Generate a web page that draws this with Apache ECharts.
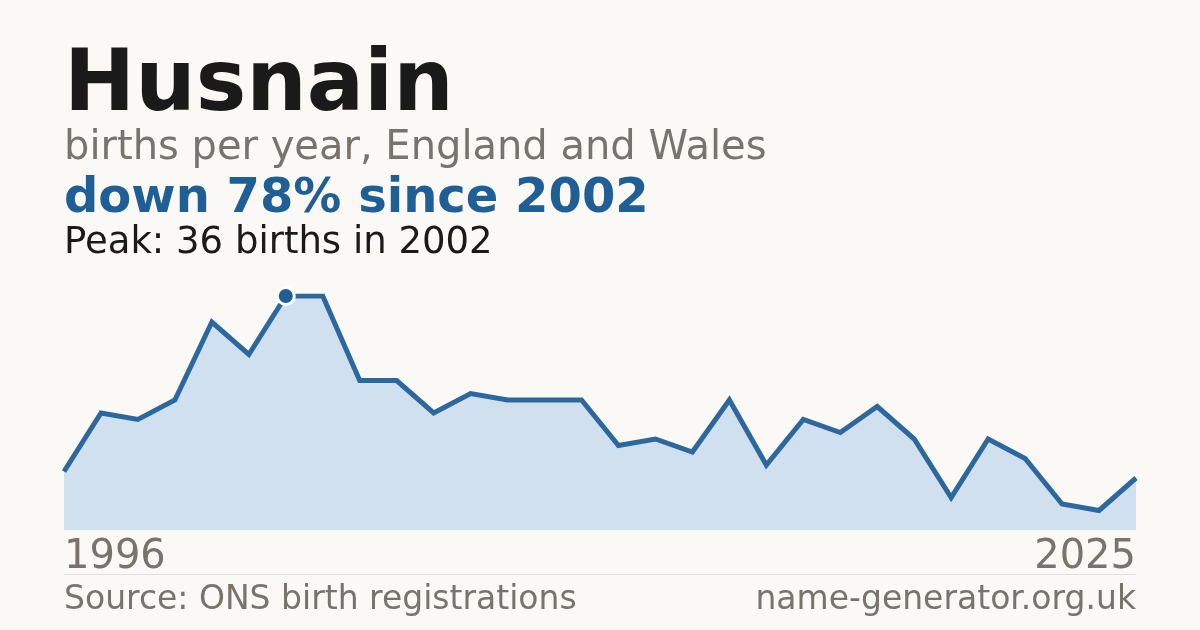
<!DOCTYPE html>
<html><head><meta charset="utf-8">
<script src="https://cdn.jsdelivr.net/npm/echarts@6/dist/echarts.min.js"></script>
<style>html,body{margin:0;padding:0;background:#faf9f5}#c{width:1200px;height:630px}</style>
</head><body><div id="c"></div>
<script>
const years = [1996,1997,1998,1999,2000,2001,2002,2003,2004,2005,2006,2007,2008,2009,2010,2011,2012,2013,2014,2015,2016,2017,2018,2019,2020,2021,2022,2023,2024,2025];
const births = [9,18,17,20,32,27,36,36,23,23,18,21,20,20,20,13,14,12,20,10,17,15,19,14,5,14,11,4,3,8];
const peakYear = 2002;
const peakValue = 36;
const titleText = "Husnain";
const subtitleText = "births per year, England and Wales";
const changeText = "down 78% since 2002";
const peakText = "Peak: 36 births in 2002";
const sourceText = "Source: ONS birth registrations";
const siteText = "name-generator.org.uk";

const F = "DejaVu Sans";
const gray = "#78736d";
const blue = "#1f5f96";
function txt(x, baseline, s, size, color, weight, align) {
  return {type:'text', x: x, y: baseline - size*0.3,
    style:{text:s, fill:color, font:(weight||'normal')+' '+size+'px "'+F+'"', textAlign:align||'left', textVerticalAlign:'middle'}};
}
const chart = echarts.init(document.getElementById('c'));
chart.setOption({
  backgroundColor:'#faf9f5',
  animation:false,
  grid:{left:64,right:64,top:296,bottom:100},
  xAxis:{type:'category',data:years.map(String),boundaryGap:false,axisLine:{show:false},axisTick:{show:false},axisLabel:{show:false},splitLine:{show:false}},
  yAxis:{type:'value',min:0,max:36,show:false,splitLine:{show:false}},
  series:[{
    type:'line',data:births,symbol:'none',
    lineStyle:{color:'#2c689d',width:5,join:'miter'},
    areaStyle:{color:'#d0e0ef',opacity:1},
    markPoint:{symbol:'circle',symbolSize:17,label:{show:false},
      itemStyle:{color:blue,borderColor:'#ffffff',borderWidth:3},
      data:[{coord:[String(peakYear),peakValue]}]}
  }],
  graphic:[
    txt(64,113,titleText,85,'#1a1a1a','bold'),
    txt(64,161,subtitleText,40,gray),
    txt(64,214,changeText,48,blue,'bold'),
    txt(64,254,peakText,37,'#1a1a1a'),
    txt(64,570,String(years[0]),40,gray),
    txt(1136,570,String(years[years.length-1]),40,gray,'normal','right'),
    {type:'line',shape:{x1:64,y1:574.5,x2:1136,y2:574.5},style:{stroke:'#e2dfda',lineWidth:1}},
    txt(64,610,sourceText,33,gray),
    txt(1136,610,siteText,33,gray,'normal','right')
  ]
});
</script></body></html>
